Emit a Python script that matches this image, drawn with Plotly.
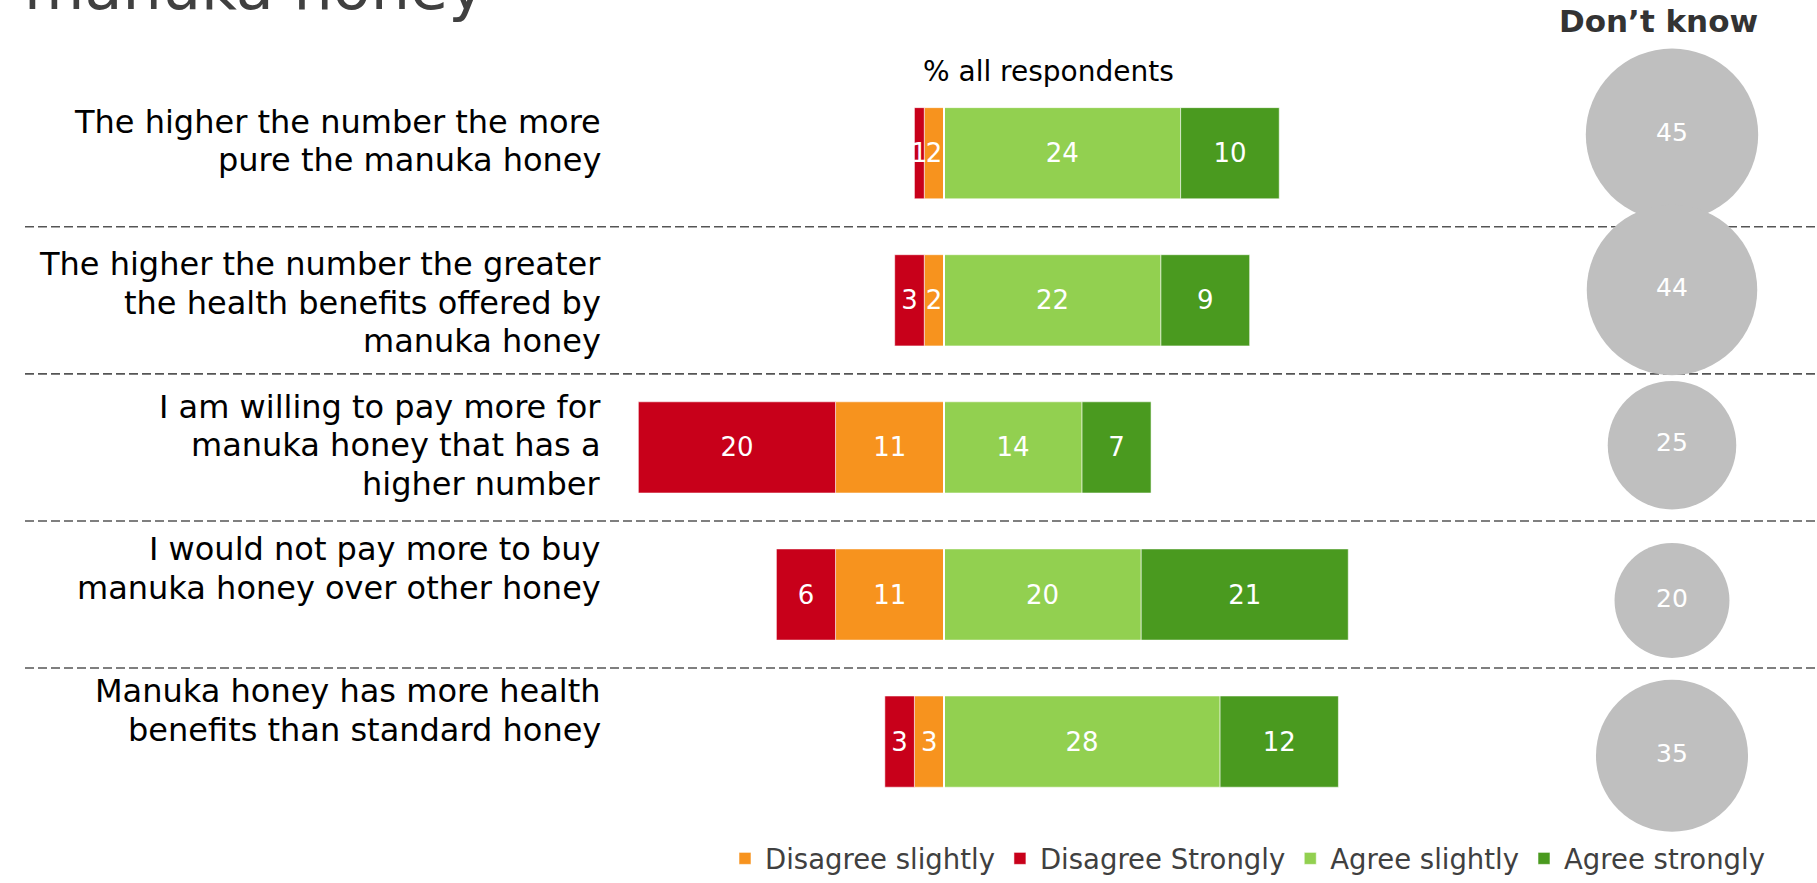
import plotly.graph_objects as go

# ---------------- data ----------------
statements = [
    "The higher the number the more<br>pure the manuka honey",
    "The higher the number the greater<br>the health benefits offered by<br>manuka honey",
    "I am willing to pay more for<br>manuka honey that has a<br>higher number",
    "I would not pay more to buy<br>manuka honey over other honey",
    "Manuka honey has more health<br>benefits than standard honey",
]
disagree_slightly = [2, 2, 11, 11, 3]
disagree_strongly = [1, 3, 20, 6, 3]
agree_slightly = [24, 22, 14, 20, 28]
agree_strongly = [10, 9, 7, 21, 12]
dont_know = [45, 44, 25, 20, 35]

series_names = ["Disagree slightly", "Disagree Strongly", "Agree slightly", "Agree strongly"]
series_colors = ["#F7931E", "#C8001A", "#92D050", "#4A9A1F"]
series_values = [disagree_slightly, disagree_strongly, agree_slightly, agree_strongly]
series_signs = [-1, -1, 1, 1]

header_dk = "Don\u2019t know"
axis_note = "% all respondents"
title_tail = "manuka honey"

W, H = 1817, 883
S = 1.011  # vertical calibration
FONT = "DejaVu Sans"

fig = go.Figure()

for name, color, vals, sgn in zip(series_names, series_colors, series_values, series_signs):
    fig.add_trace(go.Bar(
        y=statements,
        x=[sgn * v for v in vals],
        text=[str(v) for v in vals],
        name=name,
        orientation="h",
        marker=dict(color=color, line=dict(color="rgba(255,255,255,0.55)", width=1)),
        textposition="inside",
        insidetextanchor="middle",
        textangle=0,
        constraintext="none",
        textfont=dict(family=FONT, size=26, color="white"),
        width=0.62,
        hoverinfo="skip",
    ))

# Don't know bubbles
fig.add_trace(go.Scatter(
    x=[header_dk] * len(dont_know),
    y=statements,
    xaxis="x2", yaxis="y2",
    mode="markers+text",
    marker=dict(size=dont_know, sizemode="area", sizeref=0.003028,
                color="#BFBFBF", opacity=1, line=dict(width=0)),
    text=[str(v) for v in dont_know],
    textposition="middle center",
    textfont=dict(family=FONT, size=25, color="white"),
    cliponaxis=False,
    showlegend=False,
    hoverinfo="skip",
))

n = len(statements)

def px_x(p):
    return p / W

def px_y(p):
    return (H - p * S) / H

shapes = []
# dashed separators between rows
for i in range(n - 1):
    shapes.append(dict(type="line", xref="paper", yref="y",
                       x0=px_x(25), x1=1.0, y0=i + 0.5, y1=i + 0.5,
                       line=dict(color="#555555", width=1.6, dash="9px,4px"),
                       layer="below"))
# white divider at zero
shapes.append(dict(type="line", xref="x", yref="y", x0=0, x1=0, y0=-0.5, y1=n - 0.5,
                   line=dict(color="white", width=2), layer="above"))

annotations = []
LINE_STEP = 38.2 * S
for i, s in enumerate(statements):
    for k, line in enumerate(s.split("<br>")):
        annotations.append(dict(text=line, xref="paper", yref="y3", x=px_x(603), y=i,
                                yshift=-LINE_STEP * k,
                                xanchor="right", yanchor="middle", align="right", showarrow=False,
                                font=dict(family=FONT, size=32, color="#000000")))
annotations.append(dict(text=axis_note, xref="paper", yref="paper", x=px_x(1048), y=px_y(72),
                        xanchor="center", yanchor="middle", showarrow=False,
                        font=dict(family=FONT, size=28, color="#000000")))
annotations.append(dict(text="<b>" + header_dk + "</b>", xref="paper", yref="paper",
                        x=px_x(1658), y=px_y(21.5), xanchor="center", yanchor="middle",
                        showarrow=False, font=dict(family=FONT, size=31, color="#333333")))
annotations.append(dict(text=title_tail, xref="paper", yref="paper",
                        x=px_x(22), y=px_y(26), xanchor="left", yanchor="bottom",
                        showarrow=False, font=dict(family=FONT, size=62, color="#404040")))

fig.update_layout(
    width=W, height=H,
    margin=dict(l=0, r=0, t=0, b=0),
    paper_bgcolor="white", plot_bgcolor="rgba(0,0,0,0)",
    barmode="relative",
    showlegend=True,
    legend=dict(orientation="h", x=px_x(725), xanchor="left", y=px_y(867), yanchor="middle",
                font=dict(family=FONT, size=27.5, color="#404040"), bgcolor="rgba(0,0,0,0)",
                traceorder="normal"),
    xaxis=dict(domain=[px_x(944 - 35 * 9.86), px_x(944 + 45 * 9.86)], range=[-35, 45],
               visible=False, fixedrange=True),
    yaxis=dict(domain=[px_y(823.05), px_y(80.45)], type="category",
               categoryorder="array", categoryarray=statements,
               range=[n - 0.5, -0.5], visible=False),
    xaxis2=dict(domain=[px_x(1572), px_x(1772)], anchor="y2", type="category",
                range=[-0.5, 0.5], visible=False),
    yaxis2=dict(domain=[px_y(841.4), px_y(57.6)], anchor="x2", type="category",
                categoryorder="array", categoryarray=statements,
                range=[n - 0.5, -0.5], visible=False),
    yaxis3=dict(domain=[px_y(769.94), px_y(50.94)], anchor="x", range=[n - 0.5, -0.5],
                visible=False),
    shapes=shapes,
    annotations=annotations,
    font=dict(family=FONT),
)

fig.write_html(
    "out.html",
    config={"displayModeBar": False},
    post_script=(
        "document.documentElement.style.margin='0';"
        "document.documentElement.style.overflow='hidden';"
        "document.body.style.margin='0';"
        "document.body.style.overflow='hidden';"
    ),
)
